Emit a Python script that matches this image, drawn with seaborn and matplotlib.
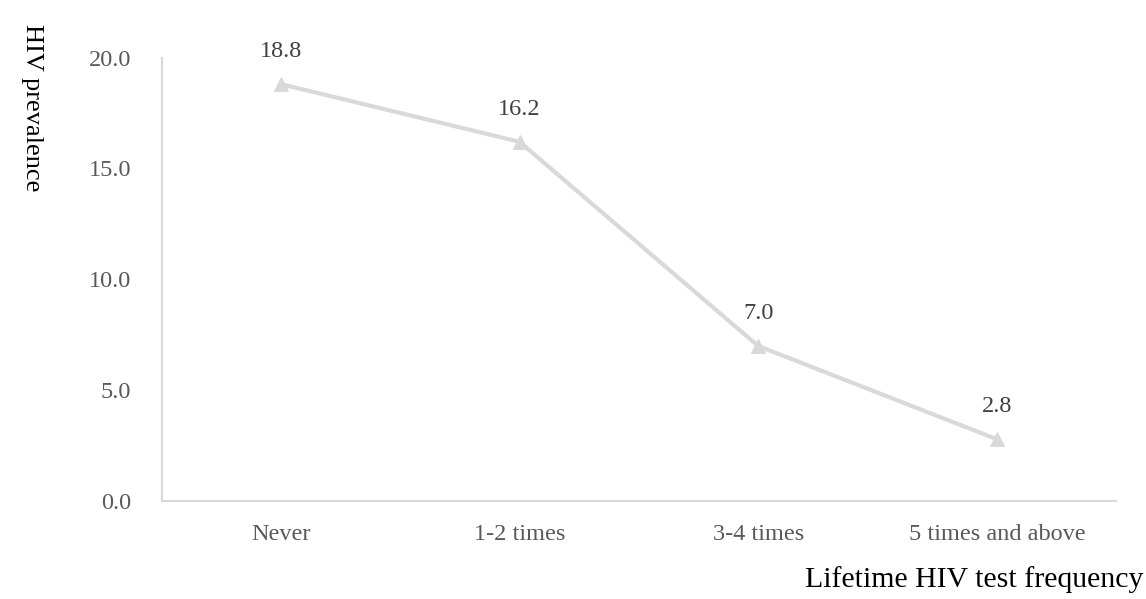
import matplotlib
matplotlib.use("Agg")
import matplotlib.pyplot as plt
import seaborn as sns
import pandas as pd

categories = ["Never", "1-2 times", "3-4 times", "5 times and above"]
prevalence = [18.8, 16.2, 7.0, 2.8]
y_ticks = [0.0, 5.0, 10.0, 15.0, 20.0]

sns.set_theme(style="white")
plt.rcParams["font.family"] = ["Liberation Serif", "DejaVu Serif"]

df = pd.DataFrame({"freq": categories, "prev": prevalence})

fig = plt.figure(figsize=(11.46, 5.99), dpi=100)
ax = fig.add_axes([0.141, 0.163, 0.833, 0.741])

sns.lineplot(data=df, x="freq", y="prev", ax=ax, color="#d9d9d9",
             linewidth=3, marker="^", markersize=10, markeredgecolor="#d9d9d9",
             sort=False)

for i, v in enumerate(prevalence):
    ax.annotate(f"{v:.1f}", (i, v), xytext=(0, 16), textcoords="offset points",
                ha="center", va="bottom", fontsize=17.5, color="#404040")

ax.set_xlim(-0.5, 3.5)
ax.set_ylim(0, 20)
ax.set_yticks(y_ticks)
ax.set_yticklabels([f"{t:.1f}" for t in y_ticks])
ax.tick_params(axis="both", length=0, labelsize=17.5, labelcolor="#595959")
ax.tick_params(axis="y", pad=22)
ax.tick_params(axis="x", pad=16)

for s in ["top", "right"]:
    ax.spines[s].set_visible(False)
for s in ["left", "bottom"]:
    ax.spines[s].set_color("#d9d9d9")
    ax.spines[s].set_linewidth(1.5)

ax.set_xlabel("")
ax.set_ylabel("")
fig.text(0.028, 0.96, "HIV prevalence", rotation=-90, ha="center", va="top",
         fontsize=19, color="#000000")
fig.text(0.998, 0.01, "Lifetime HIV test frequency", ha="right", va="bottom",
         fontsize=21.5, color="#000000")

fig.savefig("out.png", dpi=100)
